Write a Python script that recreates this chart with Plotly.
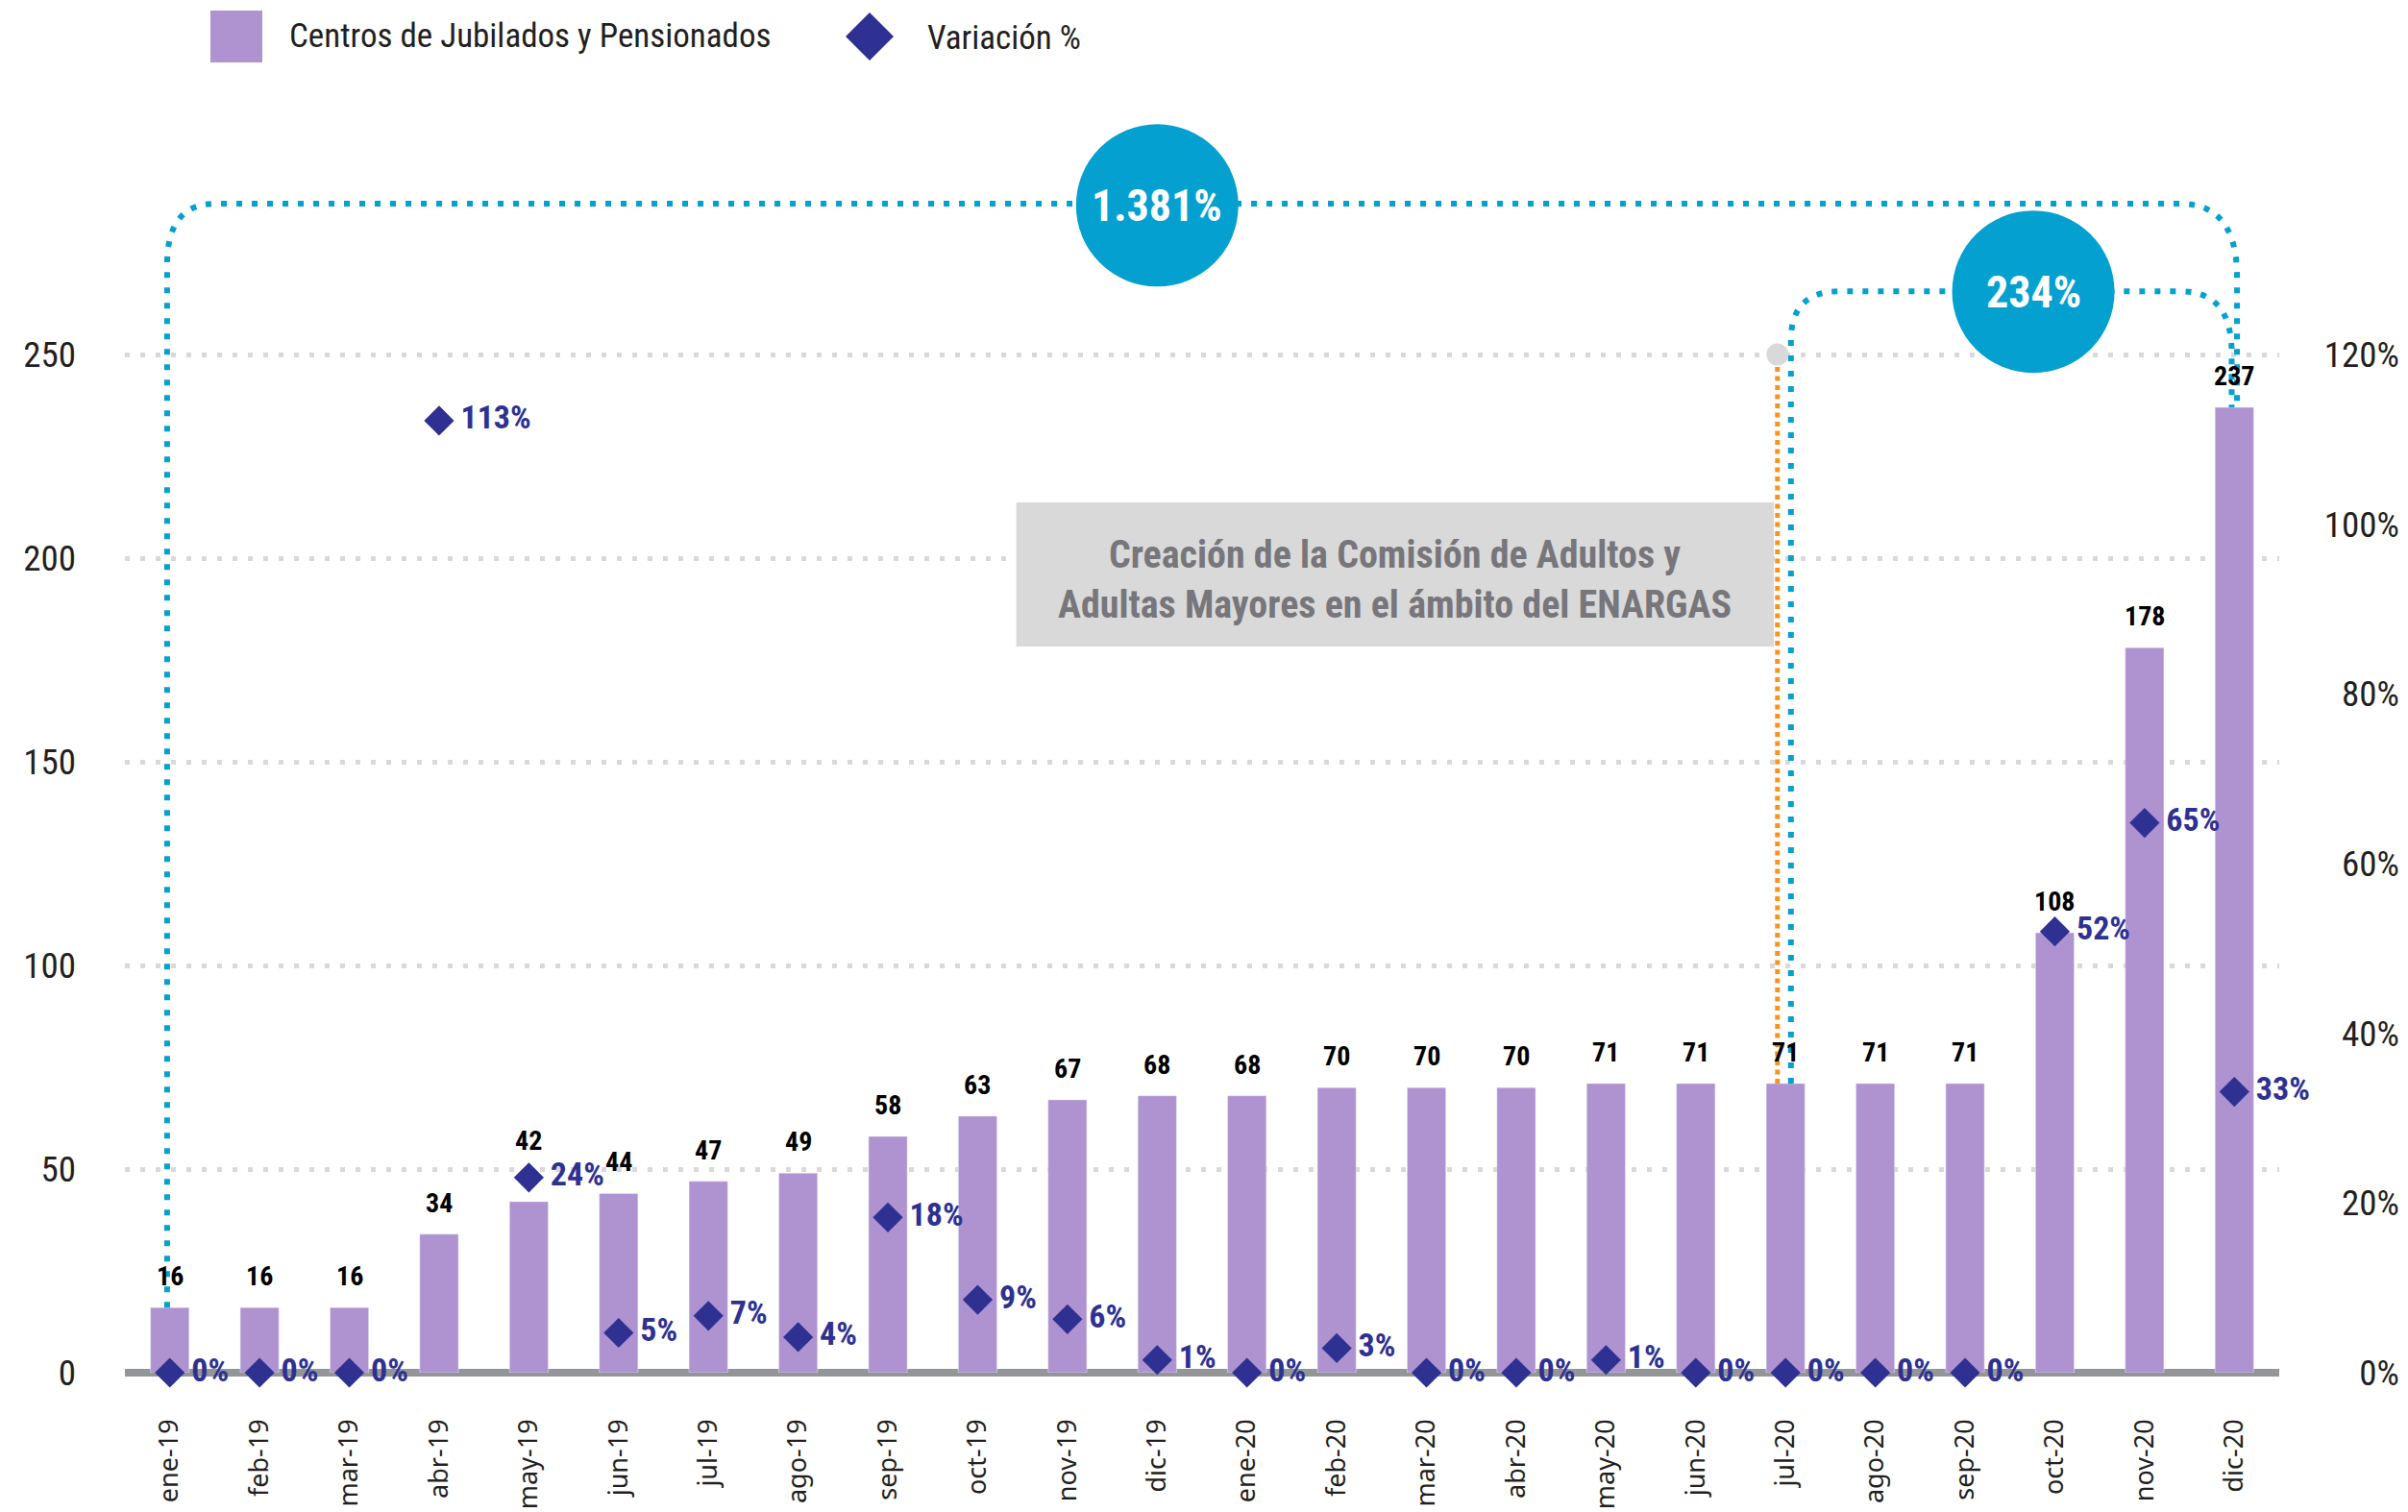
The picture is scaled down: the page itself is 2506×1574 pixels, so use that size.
import plotly.graph_objects as go

# ---------------- data ----------------
months = ["ene-19", "feb-19", "mar-19", "abr-19", "may-19", "jun-19", "jul-19", "ago-19",
          "sep-19", "oct-19", "nov-19", "dic-19", "ene-20", "feb-20", "mar-20", "abr-20",
          "may-20", "jun-20", "jul-20", "ago-20", "sep-20", "oct-20", "nov-20", "dic-20"]
centros = [16, 16, 16, 34, 42, 44, 47, 49, 58, 63, 67, 68, 68, 70, 70, 70, 71, 71, 71, 71, 71,
           108, 178, 237]
variacion = [0, 0, 0, 1.122, 0.23, 0.047, 0.067, 0.042, 0.183, 0.086, 0.063, 0.015, 0, 0.029,
             0, 0, 0.015, 0, 0, 0, 0, 0.52, 0.648, 0.331]
variacion_txt = ["0%", "0%", "0%", "113%", "24%", "5%", "7%", "4%", "18%", "9%", "6%", "1%",
                 "0%", "3%", "0%", "0%", "1%", "0%", "0%", "0%", "0%", "52%", "65%", "33%"]
left_ticks = [0, 50, 100, 150, 200, 250]
right_ticks = [0, 0.2, 0.4, 0.6, 0.8, 1.0, 1.2]
right_ticktext = ["0%", "20%", "40%", "60%", "80%", "100%", "120%"]
total_growth_txt = "1.381%"
recent_growth_txt = "234%"
note_txt = "Creación de la Comisión de Adultos y<br>Adultas Mayores en el ámbito del ENARGAS"
legend_bar = "Centros de Jubilados y Pensionados"
legend_var = "Variación %"

# ---------------- style ----------------
BAR = "#AF92D0"
NAVY = "#2E3192"
CYAN = "#04A0D0"
ORANGE = "#F7941D"
GRID = "#D9D9D9"
COND = "Roboto Condensed, Roboto, sans-serif"
TXT = "#231F20"

# page coordinates (the html body adds an 8px margin)
OFF = 8
PAGE_W, PAGE_H = 2506, 1574
FIG_W, FIG_H = PAGE_W - OFF, PAGE_H - OFF
PLOT_L, PLOT_R, PLOT_T, PLOT_B, PAPER_R = 130, 2372, 19, 1429, 2497
ML = PLOT_L - OFF
MT = PLOT_T - OFF
MB = PAGE_H - PLOT_B
MR = PAGE_W - PAPER_R
plot_w = FIG_W - ML - MR
plot_h = FIG_H - MT - MB
x_dom_end = (PLOT_R - PLOT_L) / plot_w
ymax = 250 * plot_h / 1060.0
y2max = 1.2 * plot_h / 1060.0
n = len(months)
xs = list(range(n))


def px(xpix):
    return (xpix - PLOT_L) / plot_w


def py(ypix):
    return (PLOT_B - ypix) / plot_h


fig = go.Figure()
fig.add_trace(go.Bar(x=xs, y=centros, marker_color=BAR, width=0.43, name=legend_bar,
                     showlegend=False, hoverinfo="skip"))
fig.add_trace(go.Scatter(x=xs, y=variacion, yaxis="y2", mode="markers+text",
                         marker=dict(symbol="diamond", size=24, color=NAVY),
                         text=["\u2009" + t for t in variacion_txt], textposition="middle right",
                         textfont=dict(family=COND, size=34, color=NAVY, weight="bold"),
                         name=legend_var, showlegend=False, cliponaxis=False))

annotations = []
# value labels above bars
label_lift = {4: 31}
for i, v in enumerate(centros):
    annotations.append(dict(x=i, y=v, xref="x", yref="y", text=str(v), showarrow=False,
                            yanchor="bottom", yshift=14 + label_lift.get(i, 0),
                            font=dict(family=COND, size=28, color="#000000", weight="bold")))

shapes = []
# big bracket: ene-19 -> dic-20
ytop1 = 287.0
i0, i1 = 0, n - 1
shapes.append(dict(type="path", xref="x", yref="y", layer="above",
                   path=(f"M {i0-0.03},{centros[i0]} L {i0-0.03},{ytop1-15} "
                         f"Q {i0-0.03},{ytop1} {i0+0.5},{ytop1} L {i1-0.6},{ytop1} "
                         f"Q {i1+0.03},{ytop1} {i1+0.03},{ytop1-18} L {i1+0.03},{centros[i1]}"),
                   line=dict(color=CYAN, width=6, dash="6px,10px")))
# small bracket: jul-20 -> dic-20
j0 = months.index("jul-20")
ytop2 = 265.5
shapes.append(dict(type="path", xref="x", yref="y", layer="above",
                   path=(f"M {j0+0.06},{centros[j0]} L {j0+0.06},{ytop2-12} "
                         f"Q {j0+0.06},{ytop2} {j0+0.6},{ytop2} L {i1-0.6},{ytop2} "
                         f"Q {i1-0.03},{ytop2} {i1-0.03},{ytop2-15} L {i1-0.03},{centros[i1]}"),
                   line=dict(color=CYAN, width=6, dash="6px,10px")))
# orange marker line
shapes.append(dict(type="line", xref="x", yref="y", x0=j0 - 0.09, x1=j0 - 0.09,
                   y0=centros[j0], y1=250, layer="above",
                   line=dict(color=ORANGE, width=5, dash="5px,4.5px")))
shapes.append(dict(type="circle", xref="x", yref="y", xsizemode="pixel", ysizemode="pixel",
                   xanchor=j0 - 0.09, yanchor=250, x0=-11.5, x1=11.5, y0=-11.5, y1=11.5,
                   fillcolor=GRID, line=dict(width=0), layer="above"))
# note box
shapes.append(dict(type="rect", xref="x", yref="y", x0=9.43, x1=17.87, y0=178.3, y1=213.7,
                   fillcolor=GRID, line=dict(width=0), layer="above"))
annotations.append(dict(x=(9.43 + 17.87) / 2, y=194.8, xref="x", yref="y", text=note_txt,
                        showarrow=False, align="center", xanchor="center", yanchor="middle",
                        font=dict(family=COND, size=40, color="#77767B", weight="bold")))
# circles
for cx, cy, t in [(11, 286.6, total_growth_txt), (20.76, 265.4, recent_growth_txt)]:
    shapes.append(dict(type="circle", xref="x", yref="y", xsizemode="pixel", ysizemode="pixel",
                       xanchor=cx, yanchor=cy, x0=-84.5, x1=84.5, y0=-84.5, y1=84.5,
                       fillcolor=CYAN, line=dict(width=0), layer="above"))
    annotations.append(dict(x=cx, y=cy, xref="x", yref="y", text=t, showarrow=False,
                            xanchor="center", yanchor="middle",
                            font=dict(family=COND, size=46, color="white", weight="bold")))

# custom legend
shapes.append(dict(type="rect", xref="paper", yref="paper", x0=px(219), x1=px(273),
                   y0=py(65), y1=py(11), fillcolor=BAR, line=dict(width=0)))
annotations.append(dict(x=px(299), y=py(37), xref="paper", yref="paper", text=legend_bar,
                        showarrow=False, xanchor="left", yanchor="middle",
                        font=dict(family=COND, size=35, color=TXT)))
shapes.append(dict(type="path", xref="paper", yref="paper", xsizemode="pixel", ysizemode="pixel",
                   xanchor=px(905), yanchor=py(38), path="M -25,0 L 0,25 L 25,0 L 0,-25 Z",
                   fillcolor=NAVY, line=dict(width=0)))
annotations.append(dict(x=px(963), y=py(39), xref="paper", yref="paper", text=legend_var,
                        showarrow=False, xanchor="left", yanchor="middle",
                        font=dict(family=COND, size=35, color=TXT)))

fig.update_layout(
    width=FIG_W, height=FIG_H, margin=dict(l=ML, r=MR, t=MT, b=MB, pad=0, autoexpand=False),
    plot_bgcolor="white", paper_bgcolor="white", showlegend=False,
    xaxis=dict(domain=[0, x_dom_end], range=[-0.5, n - 0.5], tickvals=xs, ticktext=months,
               tickangle=-90, showgrid=False, zeroline=False, showline=False, ticks="",
               ticklabelstandoff=42, automargin=False,
               tickfont=dict(family="Noto Sans, Open Sans, sans-serif", size=27, color=TXT)),
    yaxis=dict(range=[0, ymax], tickvals=left_ticks, showgrid=True, gridcolor=GRID,
               gridwidth=5, griddash="5px,11px", zeroline=True, zerolinecolor="#939598",
               zerolinewidth=8, ticks="", ticklabelstandoff=50, automargin=False,
               tickfont=dict(family=COND, size=37, color=TXT)),
    yaxis2=dict(range=[0, y2max], tickvals=right_ticks, ticktext=right_ticktext,
                overlaying="y", side="left", anchor="free", position=1.0, showgrid=False,
                zeroline=False, showline=False, ticks="", ticklabelstandoff=0, automargin=False,
                tickfont=dict(family=COND, size=37, color=TXT)),
    shapes=shapes, annotations=annotations,
)

fig.write_html("out.html")
